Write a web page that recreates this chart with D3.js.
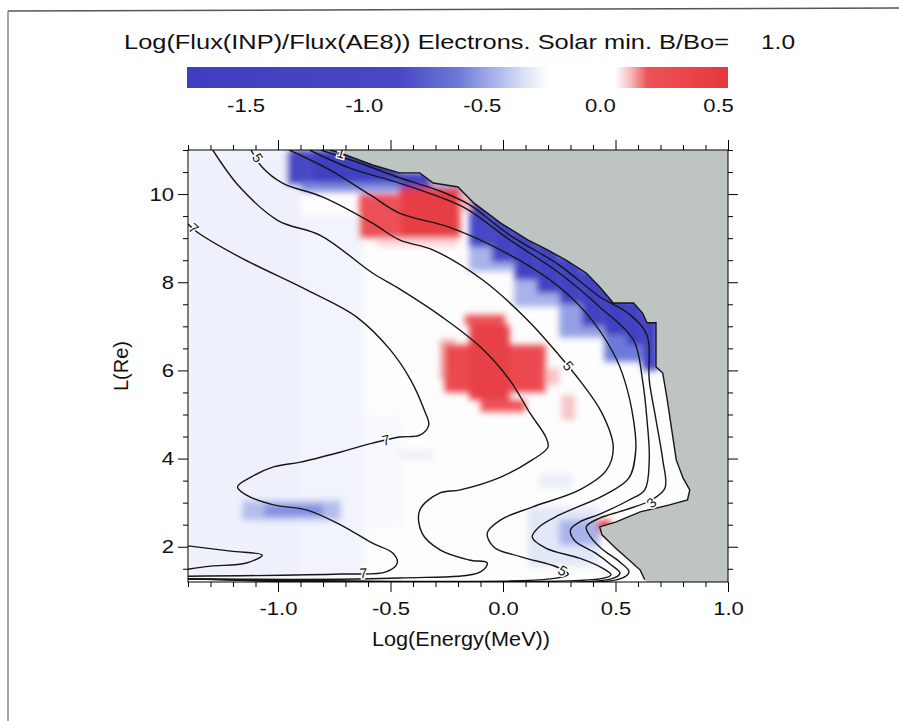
<!DOCTYPE html>
<html>
<head>
<meta charset="utf-8">
<script src="https://cdn.jsdelivr.net/npm/d3@7"></script>
<style>
body { margin: 0; background: #fff; }
svg { display: block; }
text { font-family: "Liberation Sans", Arial, Helvetica, sans-serif; fill: #111; }
</style>
</head>
<body>
<svg width="899" height="721"></svg>
<script>
// ---- data ----
var titleText = 'Log(Flux(INP)/Flux(AE8)) Electrons. Solar min. B/Bo=';
var titleValue = '1.0';
var xLabel = 'Log(Energy(MeV))';
var yLabel = 'L(Re)';

var xTicks = [-1.0, -0.5, 0.0, 0.5, 1.0];
var yTicks = [2, 4, 6, 8, 10];
var barTicks = [-1.5, -1.0, -0.5, 0.0, 0.5];

// colour table of the ratio scale
var colorStops = [-1.75, -0.85, -0.6, -0.45, -0.3, -0.22, 0.06, 0.12, 0.2, 0.54];
var colorValues = ['#3e3ec0', '#4848c6', '#6d7ad8', '#a7b3ea', '#e3e8f8', '#ffffff', '#ffffff', '#f7c4c6', '#ec5257', '#e5373e'];

// cells: [logE0, logE1, L0, L1, log ratio]
var paleCells = [
  [-1.40, -0.90, 1.30, 11.00, -0.27],
  [-0.90, -0.62, 1.30, 9.50, -0.26],
  [-0.62, -0.45, 2.40, 5.00, -0.24],
  [-1.16, -0.72, 2.60, 3.05, -0.42],
  [-1.06, -0.80, 2.70, 2.95, -0.55],
  [0.11, 0.43, 1.55, 2.90, -0.30],
  [0.25, 0.43, 2.04, 2.61, -0.45],
  [0.16, 0.31, 3.35, 3.66, -0.28],
  [-0.46, -0.31, 3.97, 4.20, -0.27]
];
var blueCells = [
  [-0.96, -0.86, 10.20, 11.00, -1.00],
  [-0.86, -0.46, 10.25, 11.00, -1.45],
  [-0.90, -0.46, 10.05, 10.25, -0.55],
  [-0.46, -0.32, 10.10, 10.50, -1.20],
  [-0.32, -0.15, 10.00, 10.30, -0.45],
  [-0.15, 0.05, 8.25, 8.80, -0.45],
  [0.05, 0.25, 7.45, 8.05, -0.45],
  [0.25, 0.45, 6.75, 7.50, -0.50],
  [0.45, 0.62, 6.20, 6.80, -0.60],
  [-0.15, -0.05, 8.80, 9.90, -1.00],
  [-0.05, 0.05, 8.45, 9.55, -1.25],
  [0.05, 0.15, 8.05, 9.20, -1.35],
  [0.15, 0.25, 7.75, 8.90, -1.40],
  [0.25, 0.35, 7.50, 8.60, -1.35],
  [0.35, 0.45, 7.00, 8.30, -1.30],
  [0.45, 0.55, 6.80, 7.90, -1.50],
  [0.55, 0.62, 6.58, 7.60, -1.50],
  [0.62, 0.69, 6.00, 7.35, -1.30]
];
var redCells = [
  [-0.56, -0.20, 8.80, 9.00, 0.10],
  [-0.64, -0.46, 9.00, 10.00, 0.22],
  [-0.46, -0.19, 9.00, 10.15, 0.45],
  [-0.19, -0.14, 9.60, 10.00, 0.13],
  [-0.28, -0.21, 5.78, 6.70, 0.14],
  [-0.26, 0.19, 5.50, 6.58, 0.30],
  [-0.17, 0.01, 7.03, 7.26, 0.20],
  [-0.15, 0.03, 5.33, 7.03, 0.42],
  [-0.10, 0.10, 5.06, 5.33, 0.20],
  [0.19, 0.25, 5.67, 6.05, 0.12],
  [0.26, 0.32, 4.88, 5.44, 0.12],
  [0.42, 0.48, 2.33, 2.61, 0.35]
];

// contour lines of log flux: [logE, L]
var contour7 = [[-1.40,9.32],[-1.36,9.14],[-1.17,8.57],[-0.87,7.82],[-0.65,7.21],[-0.50,6.46],[-0.41,5.78],[-0.35,5.10],[-0.33,4.76],[-0.37,4.53],[-0.46,4.49],[-0.58,4.35],[-0.72,4.15],[-0.90,3.92],[-1.02,3.81],[-1.12,3.58],[-1.18,3.36],[-1.14,3.17],[-1.02,2.95],[-0.87,2.83],[-0.72,2.49],[-0.58,2.08],[-0.49,1.86],[-0.47,1.63],[-0.52,1.43],[-0.72,1.38],[-1.40,1.33]];
var contour6 = [[-1.29,11.0],[-1.17,10.16],[-1.00,9.40],[-0.81,9.06],[-0.58,8.21],[-0.46,7.85],[-0.27,7.21],[-0.10,6.53],[0.03,5.78],[0.12,5.03],[0.19,4.49],[0.20,4.26],[0.13,3.97],[-0.01,3.58],[-0.19,3.29],[-0.28,3.22],[-0.37,2.83],[-0.36,2.31],[-0.28,1.93],[-0.15,1.70],[-0.07,1.63],[-0.10,1.43],[-0.46,1.29],[-1.40,1.27]];
var contour5 = [[-1.12,11.0],[-1.07,10.61],[-0.98,10.25],[-0.80,9.93],[-0.58,9.34],[-0.46,8.96],[-0.31,8.73],[-0.09,8.05],[0.11,7.14],[0.24,6.40],[0.34,5.78],[0.44,5.03],[0.49,4.26],[0.46,3.74],[0.34,3.29],[0.13,2.90],[-0.01,2.61],[-0.07,2.31],[-0.04,1.99],[0.08,1.77],[0.24,1.54],[0.29,1.38],[0.21,1.27],[-1.40,1.27]];
var contour4 = [[-0.95,11.0],[-0.77,10.55],[-0.59,9.98],[-0.46,9.57],[-0.24,9.25],[-0.01,8.73],[0.21,8.05],[0.37,7.30],[0.49,6.40],[0.54,5.78],[0.58,4.88],[0.59,4.19],[0.56,3.56],[0.45,3.17],[0.25,2.72],[0.16,2.45],[0.13,2.22],[0.19,1.97],[0.34,1.74],[0.44,1.52],[0.48,1.36],[0.43,1.27],[-1.40,1.27]];
var contour3 = [[-0.86,11.0],[-0.68,10.59],[-0.46,10.25],[-0.28,9.93],[-0.16,9.66],[0.03,8.96],[0.25,8.21],[0.43,7.44],[0.58,6.69],[0.62,5.78],[0.64,4.88],[0.65,3.97],[0.63,3.29],[0.56,3.06],[0.43,2.74],[0.34,2.56],[0.30,2.38],[0.32,2.13],[0.41,1.86],[0.48,1.59],[0.52,1.40],[0.48,1.27],[-1.40,1.27]];
var contour2 = [[-0.81,11.0],[-0.64,10.71],[-0.46,10.37],[-0.28,10.07],[-0.15,9.76],[0.03,9.07],[0.25,8.39],[0.43,7.67],[0.56,7.28],[0.64,6.80],[0.65,5.78],[0.68,4.88],[0.71,3.97],[0.72,3.33],[0.66,3.06],[0.54,2.83],[0.43,2.65],[0.37,2.45],[0.39,2.22],[0.44,1.95],[0.52,1.65],[0.56,1.43],[0.52,1.27],[-1.40,1.27]];
var cutoff = [[-0.77,11.0],[-0.72,10.93],[-0.58,10.66],[-0.46,10.48],[-0.37,10.48],[-0.31,10.25],[-0.20,10.16],[-0.13,9.80],[-0.01,9.34],[0.11,8.96],[0.20,8.73],[0.28,8.50],[0.37,8.21],[0.43,7.89],[0.49,7.53],[0.58,7.53],[0.62,7.30],[0.64,7.08],[0.68,7.08],[0.68,6.08],[0.71,5.94],[0.73,5.33],[0.75,4.65],[0.77,3.97],[0.80,3.56],[0.83,3.29],[0.82,3.06],[0.74,2.95],[0.61,2.79],[0.50,2.56],[0.43,2.45],[0.44,2.27],[0.50,1.97],[0.56,1.70],[0.61,1.47],[0.63,1.25]];
var innerLoop = [[-1.40,2.02],[-1.21,1.90],[-1.07,1.81],[-1.14,1.63],[-1.30,1.56],[-1.40,1.49]];

// labels: [text, contour, logE, L]
var contourLabels = [
  ['7', 'c7', -1.375, 9.22],
  ['5', 'c5', -1.09, 10.82],
  ['7', 'c7', -0.52, 4.42],
  ['7', 'c7', -0.62, 1.40],
  ['5', 'c5', 0.29, 6.10],
  ['5', 'c5', 0.265, 1.46],
  ['3', 'c2', 0.66, 3.00],
  ['1', 'cut', -0.72, 10.93]
];

// ---- drawing ----
var svg = d3.select('svg');
var contours = { c7: contour7, c6: contour6, c5: contour5, c4: contour4, c3: contour3, c2: contour2, cut: cutoff, loop: innerLoop };

var x = d3.scaleLinear().domain([-1.4, 1.0]).range([188, 728]);
var y = d3.scaleLinear().domain([1.2, 11.0]).range([582, 150]);
var color = d3.scaleLinear().domain(colorStops).range(colorValues).clamp(true);
var cb = d3.scaleLinear().domain([-1.75, 0.54]).range([187, 728]);

function stretch(sel, k) {
  sel.each(function() {
    var w = this.getComputedTextLength();
    d3.select(this).attr('textLength', w * k).attr('lengthAdjust', 'spacingAndGlyphs');
  });
}

// page frame of the scan
svg.append('line').attr('x1', 8).attr('y1', 11).attr('x2', 899).attr('y2', 8)
  .attr('stroke', '#555').attr('stroke-width', 1.5);
svg.append('line').attr('x1', 8).attr('y1', 11).attr('x2', 8).attr('y2', 721)
  .attr('stroke', '#888').attr('stroke-width', 1.5);

// title
svg.append('text').attr('x', 124).attr('y', 48.5).style('font-size', '21px')
  .attr('textLength', 605).attr('lengthAdjust', 'spacingAndGlyphs').text(titleText);
svg.append('text').attr('x', 761).attr('y', 48.5).style('font-size', '21px')
  .attr('textLength', 34).attr('lengthAdjust', 'spacingAndGlyphs').text(titleValue);

// colour bar
var defs = svg.append('defs');
var grad = defs.append('linearGradient').attr('id', 'cbgrad');
grad.selectAll('stop').data(colorStops).enter().append('stop')
  .attr('offset', function(d) { return (cb(d) - 187) / 541; })
  .attr('stop-color', function(d) { return color(d); });
svg.append('rect').attr('x', 187).attr('y', 67).attr('width', 541).attr('height', 21)
  .attr('fill', 'url(#cbgrad)');
var bt = svg.selectAll('.btick').data(barTicks).enter().append('text')
  .attr('class', 'btick')
  .attr('x', function(d) { return cb(d); })
  .attr('y', 111.5)
  .attr('text-anchor', 'middle')
  .style('font-size', '19px')
  .text(function(d) { return d.toFixed(1); });
stretch(bt, 1.16);

// soft edges like the scanned original
defs.append('filter').attr('id', 'soft').attr('x', '-5%').attr('y', '-5%').attr('width', '110%').attr('height', '110%')
  .append('feGaussianBlur').attr('stdDeviation', 3);

// plot area
defs.append('clipPath').attr('id', 'plotclip').append('rect')
  .attr('x', 188).attr('y', 150).attr('width', 540).attr('height', 432);
var plot = svg.append('g').attr('clip-path', 'url(#plotclip)');
plot.append('rect').attr('x', 188).attr('y', 150).attr('width', 540).attr('height', 432).attr('fill', '#fdfdfd');

var cellLayer = plot.append('g').attr('filter', 'url(#soft)');
function drawCells(cells) {
  cellLayer.append('g').selectAll('rect').data(cells).enter().append('rect')
    .attr('x', function(d) { return x(d[0]); })
    .attr('y', function(d) { return y(d[3]); })
    .attr('width', function(d) { return x(d[1]) - x(d[0]); })
    .attr('height', function(d) { return y(d[2]) - y(d[3]); })
    .attr('fill', function(d) { return color(d[4]); });
}
drawCells(paleCells);
drawCells(blueCells);
drawCells(redCells);

// no-data region beyond the cutoff
var lineLin = d3.line().x(function(d) { return x(d[0]); }).y(function(d) { return y(d[1]); });
var grayPoly = cutoff.concat([[0.64, 1.2], [1.0, 1.2], [1.0, 11.0]]);
plot.append('path').attr('d', lineLin(grayPoly) + 'Z').attr('fill', '#bec4c2');

var lineSmooth = d3.line().x(function(d) { return x(d[0]); }).y(function(d) { return y(d[1]); })
  .curve(d3.curveCatmullRom.alpha(0.5));
['c7', 'c6', 'c5', 'c4', 'c3', 'c2', 'loop'].forEach(function(k) {
  plot.append('path').attr('d', lineSmooth(contours[k]))
    .attr('fill', 'none').attr('stroke', '#161616').attr('stroke-width', 1.4);
});
plot.append('path').attr('d', lineLin(cutoff))
  .attr('fill', 'none').attr('stroke', '#161616').attr('stroke-width', 1.4);

function labelAngle(pts, e, L) {
  var px = x(e), py = y(L), best = 0, bd = Infinity;
  for (var i = 0; i < pts.length - 1; i++) {
    var ax = x(pts[i][0]), ay = y(pts[i][1]), bx = x(pts[i + 1][0]), by = y(pts[i + 1][1]);
    var mx = (ax + bx) / 2, my = (ay + by) / 2;
    var dd = (mx - px) * (mx - px) + (my - py) * (my - py);
    if (dd < bd) { bd = dd; best = Math.atan2(by - ay, bx - ax) * 180 / Math.PI; }
  }
  if (best > 90) best -= 180;
  if (best < -90) best += 180;
  return best;
}
plot.append('g').selectAll('text').data(contourLabels).enter().append('text')
  .attr('transform', function(d) {
    return 'translate(' + x(d[2]) + ',' + y(d[3]) + ') rotate(' + labelAngle(contours[d[1]], d[2], d[3]) + ')';
  })
  .attr('text-anchor', 'middle')
  .attr('dy', '0.35em')
  .style('font-size', '14px')
  .style('paint-order', 'stroke')
  .attr('stroke', '#fff').attr('stroke-width', 3)
  .text(function(d) { return d[0]; });

// frame and ticks
svg.append('rect').attr('x', 188).attr('y', 150).attr('width', 540).attr('height', 432)
  .attr('fill', 'none').attr('stroke', '#000').attr('stroke-width', 1);

var xMinor = d3.range(-14, 11).map(function(i) { return i / 10; })
  .filter(function(v) { return xTicks.indexOf(v) < 0; });
var yMinor = d3.range(3, 23).map(function(i) { return i / 2; })
  .filter(function(v) { return yTicks.indexOf(v) < 0; });

function addAxis(axis, tx, ty) {
  var g = svg.append('g').attr('transform', 'translate(' + tx + ',' + ty + ')').call(axis);
  g.select('.domain').remove();
  g.selectAll('.tick line').attr('stroke', '#000');
  return g;
}
var fmt = function(d) { return d.toFixed(1); };
var none = function() { return ''; };

var gb = addAxis(d3.axisBottom(x).tickValues(xTicks).tickSize(10).tickPadding(10).tickFormat(fmt), 0, 582);
gb.selectAll('text').style('font-size', '19px').attr('fill', '#111');
stretch(gb.selectAll('text'), 1.16);
addAxis(d3.axisBottom(x).tickValues(xMinor).tickSize(5).tickFormat(none), 0, 582);
addAxis(d3.axisTop(x).tickValues(xTicks).tickSize(10).tickFormat(none), 0, 150);
addAxis(d3.axisTop(x).tickValues(xMinor).tickSize(5).tickFormat(none), 0, 150);

var gl = addAxis(d3.axisLeft(y).tickValues(yTicks).tickSize(10).tickPadding(4).tickFormat(function(d) { return d; }), 188, 0);
gl.selectAll('text').style('font-size', '19px').attr('fill', '#111');
stretch(gl.selectAll('text'), 1.16);
addAxis(d3.axisLeft(y).tickValues(yMinor).tickSize(5).tickFormat(none), 188, 0);
addAxis(d3.axisRight(y).tickValues(yTicks).tickSize(10).tickFormat(none), 728, 0);
addAxis(d3.axisRight(y).tickValues(yMinor).tickSize(5).tickFormat(none), 728, 0);

// axis titles
svg.append('text').attr('x', 461).attr('y', 646).attr('text-anchor', 'middle')
  .style('font-size', '20px').attr('textLength', 178).attr('lengthAdjust', 'spacingAndGlyphs')
  .text(xLabel);
svg.append('text').attr('transform', 'translate(128,366) rotate(-90)').attr('text-anchor', 'middle')
  .style('font-size', '20px').text(yLabel);
</script>
</body>
</html>
